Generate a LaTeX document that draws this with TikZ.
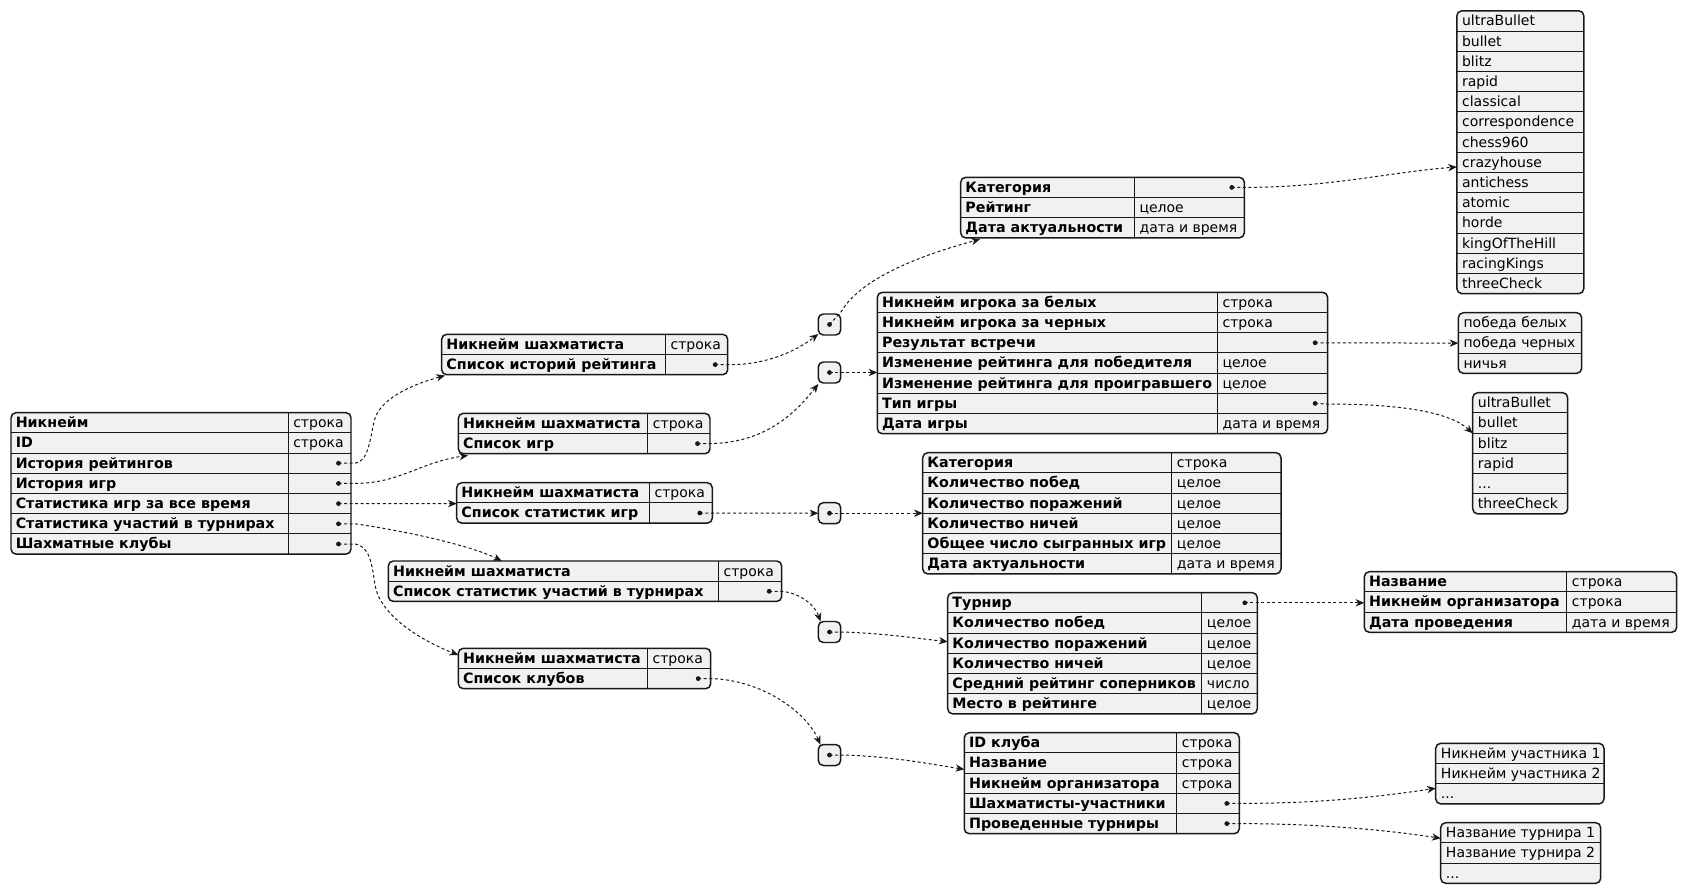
\documentclass[tikz,border=0pt]{standalone}
\usepackage{fontspec}
\setmainfont{DejaVu Sans}
\usetikzlibrary{arrows.meta,calc}
\definecolor{boxfill}{HTML}{F1F1F1}
\definecolor{ink}{HTML}{181818}
\def\rh{20.2}

\tikzset{
  x=0.75pt, y=-0.75pt,
  tbox/.style={draw=ink, fill=boxfill, line width=1.1pt, rounded corners=3.75pt, inner sep=0pt, outer sep=0pt},
  sepline/.style={draw=ink, line width=0.75pt},
  keytxt/.style={anchor=base west, inner sep=0pt, font=\fontsize{10.7}{12}\selectfont\bfseries},
  valtxt/.style={anchor=base west, inner sep=0pt, font=\fontsize{10.5}{12}\selectfont},
  dotmark/.style={fill=ink, draw=none},
  link/.style={draw=ink, line width=0.75pt, dash pattern=on 2.25pt off 1.9pt,
    -{Stealth[length=6.5pt,width=5.5pt,inset=2pt]}}
}

% table with key/value columns: name, left, divider, right, top, rows
\newcommand\jtab[6]{%
  \def\tN{#1}\def\tL{#2}\def\tD{#3}\def\tR{#4}\def\tT{#5}%
  \node[tbox, anchor=north west, minimum width={(#4-#2)*0.75pt},
        minimum height={#6*\rh*0.75pt}] (#1) at (#2,#5) {};
  \foreach \i in {1,...,\numexpr#6-1\relax}
    \draw[sepline] (#2,{#5+\i*\rh}) -- (#4,{#5+\i*\rh});
  \draw[sepline] (#3,#5) -- (#3,{#5+#6*\rh});
}
% list table without divider: name, left, right, top, rows
\newcommand\etab[5]{%
  \def\tN{#1}\def\tL{#2}\def\tR{#3}\def\tT{#4}%
  \node[tbox, anchor=north west, minimum width={(#3-#2)*0.75pt},
        minimum height={#5*\rh*0.75pt}] (#1) at (#2,#4) {};
  \foreach \i in {1,...,\numexpr#5-1\relax}
    \draw[sepline] (#2,{#4+\i*\rh}) -- (#3,{#4+\i*\rh});
}
% key/value row
\newcommand\krow[3]{%
  \node[keytxt] (\tN-k#1) at ({\tL+4.5},{\tT+(#1-1)*\rh+15}) {#2};
  \node[valtxt] (\tN-v#1) at ({\tD+5},{\tT+(#1-1)*\rh+15}) {#3};
}
% key row with a nested value marker
\newcommand\drow[3]{%
  \node[keytxt] (\tN-k#1) at ({\tL+4.5},{\tT+(#1-1)*\rh+15}) {#2};
  \coordinate (#3) at ({\tR-12.5},{\tT+(#1-0.5)*\rh});
  \fill[dotmark] (#3) circle (1.8pt);
}
% list row
\newcommand\erow[2]{%
  \node[valtxt] (\tN-e#1) at ({\tL+5},{\tT+(#1-1)*\rh+15}) {#2};
}
% small array box holding one marker
\newcommand\arrbox[3]{%
  \node[tbox, anchor=north west, minimum width={22.4*0.75pt}, minimum height={21*0.75pt}] (#1) at (818.3,#2) {};
  \coordinate (#3) at (#1.center);
  \fill[dotmark] (#3) circle (1.8pt);
}

\begin{document}
\begin{tikzpicture}
\useasboundingbox[fill=white] (0,0) rectangle (1687,894);

% player
\jtab{root}{11}{288}{351}{412.7}{7}
\krow{1}{Никнейм}{строка}
\krow{2}{ID}{строка}
\drow{3}{История рейтингов}{d1}
\drow{4}{История игр}{d2}
\drow{5}{Статистика игр за все время}{d3}
\drow{6}{Статистика участий в турнирах}{d4}
\drow{7}{Шахматные клубы}{d5}

% wrappers
\jtab{ratw}{441.7}{665.3}{727.7}{334.3}{2}
\krow{1}{Никнейм шахматиста}{строка}
\drow{2}{Список историй рейтинга}{d6}

\jtab{gamw}{458.3}{647.7}{710}{413.3}{2}
\krow{1}{Никнейм шахматиста}{строка}
\drow{2}{Список игр}{d7}

\jtab{stw}{456.7}{649.3}{712.3}{482.7}{2}
\krow{1}{Никнейм шахматиста}{строка}
\drow{2}{Список статистик игр}{d8}

\jtab{trw}{388.3}{718.3}{781.7}{561}{2}
\krow{1}{Никнейм шахматиста}{строка}
\drow{2}{Список статистик участий в турнирах}{d9}

\jtab{clw}{458.3}{647.3}{710.7}{648.3}{2}
\krow{1}{Никнейм шахматиста}{строка}
\drow{2}{Список клубов}{d10}

% arrays
\arrbox{s1}{314}{e1}
\arrbox{s2}{362}{e2}
\arrbox{s3}{502.7}{e3}
\arrbox{s4}{621.5}{e4}
\arrbox{s5}{744.5}{e5}

% items
\jtab{rati}{960.7}{1134.3}{1244.3}{177.3}{3}
\drow{1}{Категория}{f1}
\krow{2}{Рейтинг}{целое}
\krow{3}{Дата актуальности}{дата и время}

\jtab{gami}{877.3}{1217.3}{1327.6}{292.3}{7}
\krow{1}{Никнейм игрока за белых}{строка}
\krow{2}{Никнейм игрока за черных}{строка}
\drow{3}{Результат встречи}{f2}
\krow{4}{Изменение рейтинга для победителя}{целое}
\krow{5}{Изменение рейтинга для проигравшего}{целое}
\drow{6}{Тип игры}{f3}
\krow{7}{Дата игры}{дата и время}

\jtab{sti}{922.7}{1171.7}{1281}{452.7}{6}
\krow{1}{Категория}{строка}
\krow{2}{Количество побед}{целое}
\krow{3}{Количество поражений}{целое}
\krow{4}{Количество ничей}{целое}
\krow{5}{Общее число сыгранных игр}{целое}
\krow{6}{Дата актуальности}{дата и время}

\jtab{tri}{947.7}{1201.7}{1257.3}{592.7}{6}
\drow{1}{Турнир}{f4}
\krow{2}{Количество побед}{целое}
\krow{3}{Количество поражений}{целое}
\krow{4}{Количество ничей}{целое}
\krow{5}{Средний рейтинг соперников}{число}
\krow{6}{Место в рейтинге}{целое}

\jtab{tro}{1364.3}{1566.7}{1676.7}{571.7}{3}
\krow{1}{Название}{строка}
\krow{2}{Никнейм организатора}{строка}
\krow{3}{Дата проведения}{дата и время}

\jtab{cli}{964.3}{1176.7}{1239.3}{732.7}{5}
\krow{1}{ID клуба}{строка}
\krow{2}{Название}{строка}
\krow{3}{Никнейм организатора}{строка}
\drow{4}{Шахматисты-участники}{f5}
\drow{5}{Проведенные турниры}{f6}

% value lists
\etab{cat}{1456.8}{1583.8}{10.8}{14}
\erow{1}{ultraBullet}
\erow{2}{bullet}
\erow{3}{blitz}
\erow{4}{rapid}
\erow{5}{classical}
\erow{6}{correspondence}
\erow{7}{chess960}
\erow{8}{crazyhouse}
\erow{9}{antichess}
\erow{10}{atomic}
\erow{11}{horde}
\erow{12}{kingOfTheHill}
\erow{13}{racingKings}
\erow{14}{threeCheck}

\etab{res}{1458.3}{1581.7}{312.7}{3}
\erow{1}{победа белых}
\erow{2}{победа черных}
\erow{3}{ничья}

\etab{typ}{1472.7}{1567.7}{392.7}{6}
\erow{1}{ultraBullet}
\erow{2}{bullet}
\erow{3}{blitz}
\erow{4}{rapid}
\erow{5}{...}
\erow{6}{threeCheck}

\etab{par}{1435.7}{1604}{743.3}{3}
\erow{1}{Никнейм участника 1}
\erow{2}{Никнейм участника 2}
\erow{3}{...}

\etab{tnm}{1440.7}{1600.7}{822.7}{3}
\erow{1}{Название турнира 1}
\erow{2}{Название турнира 2}
\erow{3}{...}

% arrow end points
\coordinate (t1) at (445,375.5);
\coordinate (t2) at (468,455.5);
\coordinate (t3) at (456.7,503.6);
\coordinate (t4) at (501.7,561);
\coordinate (t5) at (458.3,655);
\coordinate (t6) at (818.3,334);
\coordinate (t7) at (818.3,384);
\coordinate (t8) at (818.3,513.2);
\coordinate (t9) at (820.5,621.5);
\coordinate (t10) at (820.5,744.5);
\coordinate (u1) at (980,239.3);
\coordinate (u2) at (877.3,372.5);
\coordinate (u3) at (922.7,513.2);
\coordinate (u4) at (947.7,641.7);
\coordinate (u5) at (964.3,769.3);
\coordinate (w1) at (1456.8,167);
\coordinate (w2) at (1458.3,343.1);
\coordinate (w3) at (1472.7,433.3);
\coordinate (w4) at (1364.3,602.8);
\coordinate (w5) at (1435.7,788.3);
\coordinate (w6) at (1440.7,838.3);

% player -> wrappers
\draw[link] (d1) -- ++(16.5,0) .. controls (368,462) and (370,440) .. (374,422)
  .. controls (378,400) and (410,385) .. (t1);
\draw[link] (d2) -- ++(16.5,0) .. controls (400,483.4) and (420,462) .. (t2);
\draw[link] (d3) -- (t3);
\draw[link] (d4) -- ++(16.5,0) .. controls (400,530) and (470,545) .. (t4);
\draw[link] (d5) -- ++(16.5,0) .. controls (370,546) and (372,565) .. (375,585)
  .. controls (380,615) and (420,640) .. (t5);

% wrappers -> arrays
\draw[link] (d6) -- ++(16.5,0) .. controls (765,364.5) and (795,352) .. (t6);
\draw[link] (d7) -- ++(14.5,0) .. controls (760,442) and (790,420) .. (t7);
\draw[link] (d8) -- (t8);
\draw[link] (d9) -- ++(12.5,0) .. controls (800,593) and (815,605) .. (t9);
\draw[link] (d10) -- ++(13.5,0) .. controls (760,680) and (805,710) .. (t10);

% arrays -> items
\draw[link] (e1) -- (841,312) .. controls (858,282) and (910,258) .. (u1);
\draw[link] (e2) -- (u2);
\draw[link] (e3) -- (u3);
\draw[link] (e4) -- (841,632) .. controls (880,633) and (915,638) .. (u4);
\draw[link] (e5) -- (841,755) .. controls (890,756) and (930,764) .. (u5);

% items -> lists and nested objects
\draw[link] (f1) -- (1244.3,187.4) .. controls (1330,187.4) and (1390,172) .. (w1);
\draw[link] (f2) -- (w2);
\draw[link] (f3) -- (1327.6,404) .. controls (1400,404) and (1450,412) .. (w3);
\draw[link] (f4) -- (w4);
\draw[link] (f5) -- (1239.3,803.4) .. controls (1330,803.4) and (1390,795) .. (w5);
\draw[link] (f6) -- (1239.3,823.6) .. controls (1330,823.6) and (1400,832) .. (w6);
\end{tikzpicture}
\end{document}
